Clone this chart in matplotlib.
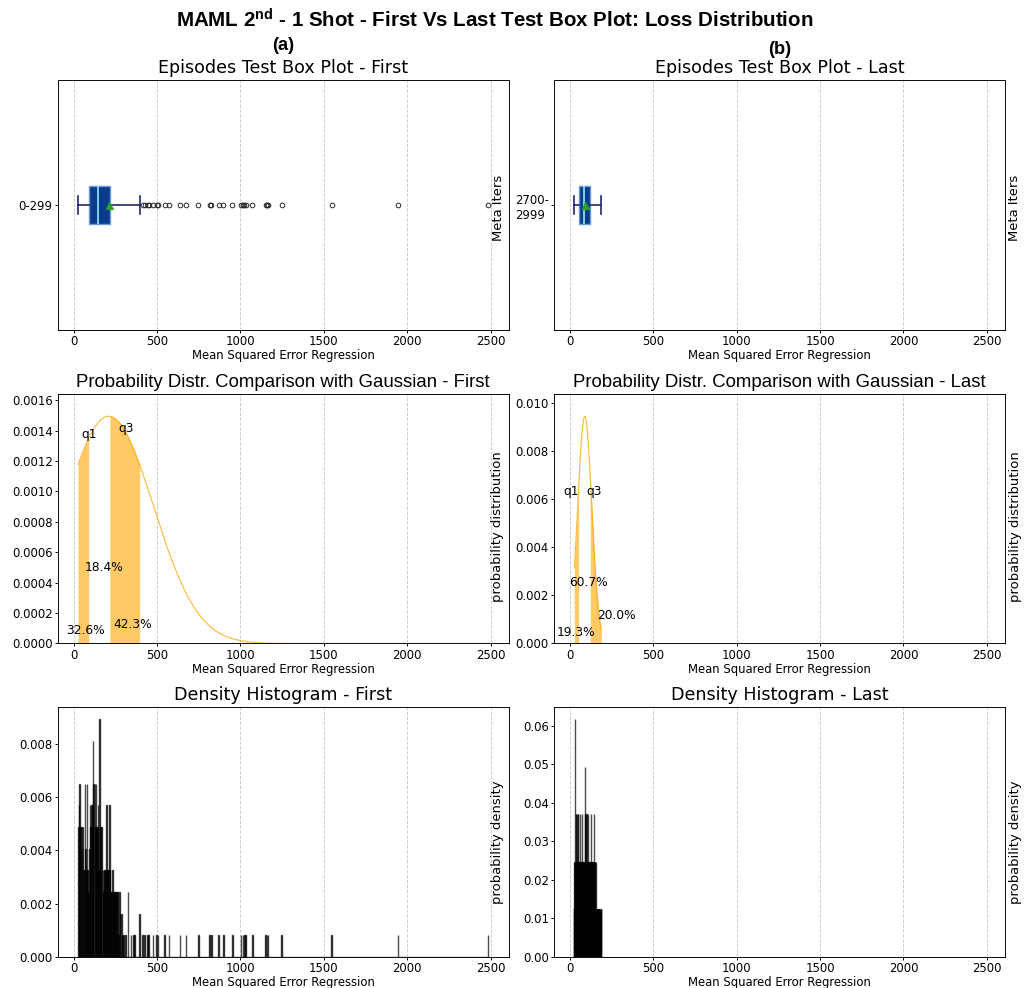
import numpy as np
import matplotlib
matplotlib.use("Agg")
import matplotlib.pyplot as plt

# test-episode losses (MSE), stored as value / how many episodes had it
first_vals = [26, 30.5, 35, 39.5, 44, 48.5, 53, 57.5, 62, 66.5, 71, 75.5, 80, 84.5, 89,
              93, 97.5, 102, 106.5, 111, 116, 121, 125.5, 130, 134.5, 139, 143,
              145, 150, 155, 159.5, 164, 168.5, 173, 177.5, 182, 186.5, 191, 195.5, 200, 204.5, 209, 214,
              218, 223, 227.5, 232, 236.5, 241, 245.5, 250, 254.5, 259, 264, 270, 274, 279, 284, 289,
              295, 300, 310, 324, 343, 357, 365, 396,
              413, 425, 443, 451, 477, 499, 505, 545, 571, 639, 675, 747, 815, 823, 869, 897, 952,
              1004, 1014, 1024, 1032, 1072, 1152, 1158, 1166, 1248, 1548, 1945, 2486]
first_counts = [6, 7, 8, 6, 6, 5, 6, 4, 4, 8, 5, 4, 8, 4, 3,
                5, 7, 6, 7, 7, 10, 8, 8, 6, 8, 6, 6,
                7, 4, 11, 6, 4, 6, 4, 3, 4, 4, 4, 7, 4, 4, 4, 7,
                4, 3, 3, 4, 3, 3, 3, 3, 3, 3, 3, 1, 3, 2, 2, 1,
                1, 1, 1, 3, 1, 1, 1, 2,
                1, 1, 1, 1, 1, 1, 1, 1, 1, 1, 1, 1, 1, 1, 1, 1, 1,
                1, 1, 1, 1, 1, 1, 1, 1, 1, 1, 1, 1]

last_vals = [26, 26.5, 27, 27.5, 28, 28.5, 29, 29.5, 30, 30.5, 31, 31.5, 32, 32.5, 33, 34, 34.5,
             35, 35.5, 36, 36.5, 37, 38, 38.5, 39, 40, 41, 42, 42.5, 43, 44, 45, 46, 47, 47.5,
             48, 49, 50, 50.5, 51, 51.5,
             52.5, 53, 54, 54.5, 55, 56, 57, 57.5, 58, 59, 60, 60.5, 61, 62, 63, 63.5, 64, 65,
             66, 66.5, 67, 68, 69, 70, 70.5, 71, 72, 73, 74, 74.5, 75, 76, 77, 78, 78.5, 79, 80,
             81, 82, 82.5, 83, 84,
             86, 86.5, 87, 88, 88.5, 89, 90, 90.5, 91, 92, 93, 94, 95, 96, 97, 98, 99, 100, 101,
             102, 103, 104, 105, 106, 107, 108, 109, 110, 111, 112, 113, 114, 115, 116, 117, 118,
             119, 120, 121, 121.5,
             123, 124, 125, 126, 127, 128, 129, 130, 131, 132, 133, 134, 135, 136, 137, 138, 139,
             140, 141, 142, 143, 144, 145, 146, 147, 148, 149, 150, 151, 152, 153, 154,
             156, 157, 158, 160, 161, 163, 164, 166, 168, 169, 171, 173, 174, 176, 178, 180, 182,
             184, 186, 188]
last_counts = [2, 1, 1, 2, 2, 1, 2, 1, 2, 1, 2, 1, 5, 1, 2, 3, 1,
               2, 1, 2, 1, 2, 3, 1, 2, 2, 2, 3, 1, 2, 2, 2, 3, 1, 2,
               2, 2, 3, 1, 2, 1,
               2, 2, 2, 1, 2, 2, 2, 1, 2, 2, 3, 1, 2, 2, 2, 1, 2, 2,
               2, 1, 2, 2, 2, 3, 1, 2, 2, 2, 2, 1, 2, 2, 2, 2, 1, 2, 2,
               1, 2, 1, 1, 2,
               2, 1, 2, 1, 2, 1, 4, 1, 2, 3, 2, 2, 3, 2, 2, 1, 3, 2, 2,
               2, 1, 2, 2, 2, 1, 2, 2, 3, 1, 2, 2, 2, 1, 2, 2, 2,
               1, 2, 2, 1,
               2, 1, 2, 3, 2, 2, 1, 2, 2, 2, 1, 2, 2, 2, 1, 2, 2,
               2, 1, 2, 1, 2, 1, 3, 1, 2, 1, 2, 1, 2, 1, 2,
               1, 1, 1, 1, 1, 1, 1, 1, 1, 1, 1, 1, 1, 1, 1, 1, 1,
               1, 1, 1]

iter_labels = ["0-299", "2700-\n2999"]
col_names = ["First", "Last"]
panel_tags = ["(a)", "(b)"]

# annotation texts on the gaussian panels: (text, x, y)
first_notes = [("q1", 46, 0.00135), ("q3", 270, 0.00139), ("18.4%", 66, 0.000475),
               ("32.6%", -45, 0.000065), ("42.3%", 240, 0.0001)]
last_notes = [("q1", -38, 0.0062), ("q3", 98, 0.0062), ("60.7%", -4, 0.00238),
              ("20.0%", 161, 0.001), ("19.3%", -78, 0.0003)]

first_loss = np.repeat(first_vals, first_counts).astype(float)
last_loss = np.repeat(last_vals, last_counts).astype(float)

DPI = 84
fig, axs = plt.subplots(3, 2, figsize=(1024 / DPI, 988 / DPI), dpi=DPI, sharex=True)
fig.subplots_adjust(left=0.0562, right=0.9814, top=0.919, bottom=0.0314, wspace=0.1, hspace=0.254)

for col, (loss, name, ylab, notes) in enumerate(zip([first_loss, last_loss], col_names,
                                                    iter_labels, [first_notes, last_notes])):
    ax_box, ax_pdf, ax_hist = axs[0, col], axs[1, col], axs[2, col]

    # box plot
    ax_box.boxplot(loss, orientation="horizontal", patch_artist=True, showmeans=True,
                   boxprops=dict(facecolor="#0b3c8c", edgecolor="#6a9ad6", linewidth=1.2),
                   medianprops=dict(color="#8ee3ef", linewidth=1.5),
                   whiskerprops=dict(color="#1c2566", linewidth=1.4),
                   capprops=dict(color="#1c2566", linewidth=1.4),
                   meanprops=dict(marker="^", markerfacecolor="#2ca02c", markeredgecolor="#2ca02c",
                                  markersize=6),
                   flierprops=dict(marker="o", markerfacecolor="none", markeredgecolor="#222222",
                                   markersize=4, markeredgewidth=0.8))
    ax_box.set_yticks([1], [ylab])
    for lbl in ax_box.get_yticklabels():
        lbl.set_multialignment("left")
    ax_box.set_title("Episodes Test Box Plot - " + name, fontsize=15)

    # gaussian with the same mean/std as the losses, drawn over the loss range
    mu, sd = loss.mean(), loss.std()
    q1, q3 = np.percentile(loss, [25, 75])
    upper = loss[loss <= q3 + 1.5 * (q3 - q1)].max()
    xs = np.linspace(loss.min(), loss.max(), 1500)
    pdf = np.exp(-0.5 * ((xs - mu) / sd) ** 2) / (sd * np.sqrt(2 * np.pi))
    ax_pdf.plot(xs, pdf, color="orange", linewidth=1, alpha=0.75)
    ax_pdf.fill_between(xs, pdf, where=(xs <= q1), color="orange", alpha=0.6, linewidth=0)
    ax_pdf.fill_between(xs, pdf, where=(xs >= q3) & (xs <= upper), color="orange", alpha=0.6,
                        linewidth=0)
    for txt, tx, ty in notes:
        ax_pdf.text(tx, ty, txt, fontsize=10.5, ha="left", va="baseline")
    ax_pdf.set_ylim(0, pdf.max() * 1.1)
    ax_pdf.set_title("Probability Distr. Comparison with Gaussian - " + name,
                     fontsize=16, family="Liberation Sans")

    # density histogram, two bins per episode
    ax_hist.hist(loss, bins=2 * len(loss), density=True, color="black", alpha=0.7,
                 edgecolor="black", linewidth=1.2)
    ax_hist.set_title("Density Histogram - " + name, fontsize=15)

    for ax in (ax_box, ax_pdf, ax_hist):
        ax.grid(axis="x", linestyle="--", color="#cccccc", linewidth=0.8)
        ax.set_axisbelow(True)
        ax.tick_params(labelbottom=True, length=2.5, pad=1.8)
        ax.set_xlabel("Mean Squared Error Regression", labelpad=1)

# side labels (pixel positions from the layout)
side_labels = [("Meta Iters", 208), ("probability distribution", 527), ("probability density", 842)]
for txt, ypix in side_labels:
    for xpix in (498, 1015):
        fig.text(xpix / 1024, 1 - ypix / 988, txt, rotation=90, ha="center", va="center",
                 fontsize=11.3)

plt.rcParams["mathtext.fontset"] = "custom"
plt.rcParams["mathtext.rm"] = "Liberation Sans:bold"
plt.rcParams["mathtext.it"] = "Liberation Sans:bold"
plt.rcParams["mathtext.bf"] = "Liberation Sans:bold"
fig.text(495 / 1024, 1 - 20 / 988,
         r"MAML 2$^{\mathrm{nd}}$ - 1 Shot - First Vs Last Test Box Plot: Loss Distribution",
         ha="center", va="center", fontsize=17.6, fontweight="bold", family="Liberation Sans")
fig.text(283 / 1024, 1 - 46 / 988, panel_tags[0], ha="center", va="center", fontsize=15.5,
         fontweight="bold", family="Liberation Sans")
fig.text(780 / 1024, 1 - 50 / 988, panel_tags[1], ha="center", va="center", fontsize=15.5,
         fontweight="bold", family="Liberation Sans")

fig.savefig("out.png", dpi=DPI)
